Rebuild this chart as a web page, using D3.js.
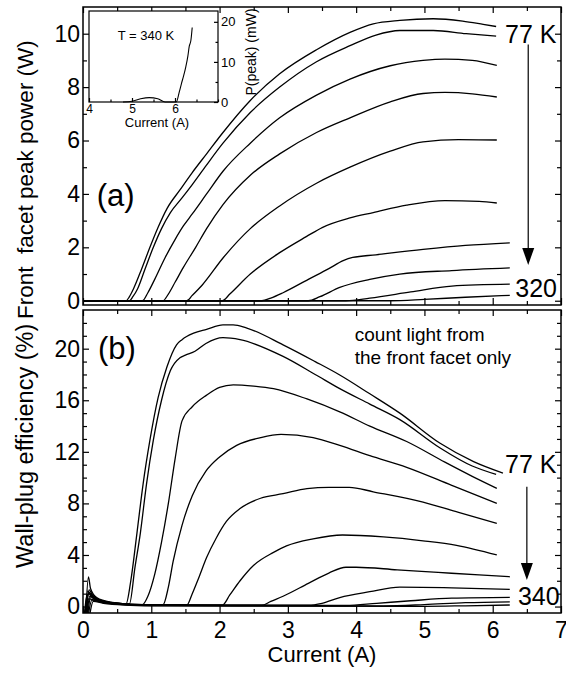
<!DOCTYPE html>
<html>
<head>
<meta charset="utf-8">
<script src="https://cdn.jsdelivr.net/npm/d3@7"></script>
<style>
  body { margin: 0; background: #fff; }
  svg { font-family: "Liberation Sans", Arial, Helvetica, sans-serif; }
</style>
</head>
<body>
<div class="canvas"></div>
<script>
// ticks
const currentTicks = [0, 1, 2, 3, 4, 5, 6, 7]
const currentMinor = [0.5, 1.5, 2.5, 3.5, 4.5, 5.5, 6.5]
const powerTicks = [0, 2, 4, 6, 8, 10]
const powerMinor = [1, 3, 5, 7, 9]
const effTicks = [0, 4, 8, 12, 16, 20]
const effMinor = [1, 2, 3, 5, 6, 7, 9, 10, 11, 13, 14, 15, 17, 18, 19, 21, 22]
const insetCurrentTicks = [4, 5, 6]
const insetCurrentMinor = [4.5, 5.5, 6.5, 7]
const insetPowerTicks = [0, 10, 20]
const insetPowerMinor = [5, 15]

// (a) front facet peak power (W) vs current (A), 77 K (top) ... 320 K (bottom)
const powerCurves = [
  [[0,0],[0.63,0],[0.68,0.15],[0.74,0.45],[0.86,1.2],[0.98,2.0],[1.1,2.75],[1.23,3.45],[1.42,4.15],[1.6,4.8],[1.81,5.5],[2.05,6.3],[2.45,7.5],[2.88,8.5],[3.42,9.4],[3.91,10.05],[4.25,10.37],[4.64,10.5],[5.13,10.56],[5.56,10.47],[5.86,10.35],[6.05,10.27]],
  [[0,0],[0.68,0],[0.73,0.15],[0.8,0.45],[0.91,1.2],[1.03,2.0],[1.15,2.7],[1.28,3.3],[1.45,3.85],[1.6,4.35],[1.8,5.05],[2.05,5.9],[2.45,7.05],[2.88,8.0],[3.42,8.95],[3.91,9.55],[4.29,9.95],[4.64,10.12],[5.13,10.12],[5.61,10.0],[6.05,9.91]],
  [[0,0],[0.87,0],[0.95,0.3],[1.05,0.8],[1.2,1.6],[1.35,2.3],[1.47,2.8],[1.6,3.25],[1.81,4.0],[2.05,4.85],[2.45,5.9],[2.88,6.85],[3.42,7.7],[3.91,8.3],[4.5,8.8],[4.98,9.0],[5.3,9.05],[5.7,9.0],[6.06,8.81]],
  [[0,0],[1.17,0],[1.25,0.25],[1.35,0.7],[1.47,1.25],[1.65,2.0],[1.81,2.7],[2.05,3.6],[2.45,4.7],[2.88,5.5],[3.42,6.3],[3.91,6.85],[4.5,7.45],[4.98,7.76],[5.3,7.8],[5.7,7.75],[6.06,7.63]],
  [[0,0],[1.52,0],[1.6,0.2],[1.75,0.6],[2.05,1.6],[2.45,2.7],[2.88,3.55],[3.42,4.4],[3.91,5.0],[4.5,5.6],[4.98,5.95],[5.5,6.03],[6.06,6.02]],
  [[0,0],[2.04,0],[2.15,0.25],[2.45,1.0],[2.88,1.8],[3.27,2.4],[3.51,2.75],[3.91,3.1],[4.25,3.3],[4.74,3.58],[5.3,3.75],[5.8,3.72],[6.06,3.66]],
  [[0,0],[2.62,0],[2.75,0.1],[2.93,0.3],[3.3,0.8],[3.6,1.2],[3.81,1.5],[3.95,1.62],[4.29,1.72],[4.98,1.92],[5.6,2.07],[6.25,2.17]],
  [[0,0],[3.3,0],[3.47,0.15],[3.76,0.5],[4.2,0.8],[4.64,1.0],[5.4,1.13],[6.25,1.23]],
  [[0,0],[3.85,0],[4.2,0.1],[4.8,0.33],[5.4,0.55],[6.25,0.62]],
  [[0,0],[4.5,0],[5.0,0.05],[5.6,0.13],[6.25,0.2]]
]

// (b) wall-plug efficiency (%) vs current (A), 77 K (top) ... 340 K (bottom)
const effCurves = [
  [[0.02,-0.6],[0.06,0.9],[0.1,1.0],[0.2,0.6],[0.35,0.35],[0.5,0.25],[0.63,0.2],[0.7,2.0],[0.79,5.7],[0.88,9.5],[0.98,12.9],[1.1,16.2],[1.23,18.6],[1.37,20.3],[1.45,20.7],[1.62,21.2],[1.81,21.5],[2.05,21.85],[2.2,21.85],[2.4,21.6],[2.93,20.3],[3.4,19.0],[3.76,17.96],[4.2,16.5],[4.64,15.0],[5.23,12.66],[5.72,11.24],[6.15,10.35]],
  [[0.03,-0.6],[0.07,1.2],[0.12,0.9],[0.25,0.5],[0.45,0.3],[0.68,0.2],[0.76,3.0],[0.84,5.7],[0.93,9.5],[1.03,12.9],[1.15,16.0],[1.28,18.3],[1.42,19.3],[1.5,19.5],[1.64,19.8],[1.8,20.4],[2.05,20.85],[2.3,20.7],[2.93,19.4],[3.4,18.0],[3.76,16.9],[4.2,15.7],[4.64,14.5],[5.23,12.3],[5.7,10.9],[6.05,10.25]],
  [[0.04,-0.6],[0.08,2.3],[0.11,1.4],[0.2,0.7],[0.4,0.35],[0.87,0.15],[0.95,0.8],[1.05,2.5],[1.15,5.0],[1.25,8.0],[1.35,11.5],[1.45,14.4],[1.6,15.5],[1.81,16.4],[2.0,17.0],[2.2,17.2],[2.5,17.1],[2.79,16.9],[3.28,16.1],[3.76,15.1],[4.2,14.0],[4.74,12.8],[5.3,11.2],[5.7,10.1],[6.06,9.17]],
  [[0.05,-0.6],[0.09,1.3],[0.15,0.8],[0.3,0.4],[0.6,0.2],[1.17,0.12],[1.25,1.5],[1.32,3.5],[1.45,6.3],[1.6,8.6],[1.8,10.5],[2.0,11.6],[2.25,12.5],[2.6,13.1],[2.9,13.35],[3.37,13.1],[3.76,12.5],[4.2,11.7],[4.74,10.8],[5.4,9.4],[6.06,8.0]],
  [[0.04,-0.6],[0.08,1.0],[0.14,0.7],[0.3,0.35],[0.7,0.15],[1.52,0.12],[1.6,1.0],[1.7,2.3],[1.81,3.8],[1.95,5.3],[2.1,6.6],[2.3,7.6],[2.6,8.4],[2.93,8.75],[3.28,9.15],[3.6,9.25],[3.9,9.25],[4.25,8.9],[4.98,8.1],[5.5,7.3],[6.06,6.45]],
  [[0.06,-0.6],[0.1,0.8],[0.16,0.6],[0.3,0.3],[0.8,0.12],[2.04,0.1],[2.15,0.9],[2.3,2.0],[2.5,3.2],[2.79,4.2],[2.98,4.7],[3.37,5.25],[3.8,5.55],[4.4,5.4],[4.98,5.1],[5.47,4.75],[6.06,4.0]],
  [[0.03,-0.6],[0.09,1.1],[0.15,0.7],[0.35,0.3],[0.9,0.12],[2.62,0.1],[2.75,0.4],[2.93,0.8],[3.3,1.8],[3.6,2.6],[3.85,3.05],[4.0,3.05],[4.6,2.85],[5.2,2.65],[5.8,2.45],[6.25,2.31]],
  [[0.05,-0.6],[0.08,0.6],[0.2,0.45],[0.4,0.25],[1.0,0.1],[3.3,0.1],[3.5,0.25],[3.76,0.7],[4.2,1.15],[4.64,1.5],[5.4,1.45],[6.25,1.33]],
  [[0.07,-0.6],[0.12,0.9],[0.2,0.55],[0.4,0.3],[1.0,0.1],[3.85,0.08],[4.3,0.25],[4.8,0.45],[5.4,0.65],[6.25,0.71]],
  [[0.08,-0.6],[0.13,0.5],[0.25,0.35],[0.5,0.2],[1.0,0.08],[4.4,0.05],[5.0,0.15],[5.6,0.3],[6.25,0.37]],
  [[0.1,-0.6],[0.15,0.4],[0.3,0.25],[0.6,0.12],[1.2,0.05],[5.0,0.02],[5.6,0.06],[6.25,0.12]]
]

// inset: P(peak) (mW) vs current (A) at T = 340 K
const insetCurve = [[4.79,0],[5.0,0.2],[5.2,0.8],[5.4,1.1],[5.6,0.8],[5.77,0],[6.03,0],[6.1,2.5],[6.15,4.6],[6.2,6.5],[6.25,8.7],[6.3,11.5],[6.33,13.8],[6.37,15.4],[6.4,18.6]]

const FONT = '"Liberation Sans", Arial, Helvetica, sans-serif'

const svg = d3.select('.canvas')
  .append('svg')
  .attr('width', 566)
  .attr('height', 673)

// scales
const x = d3.scaleLinear().domain([0, 7]).range([83, 561])
const yA = d3.scaleLinear().domain([-0.16, 11]).range([305, 7])
const yB = d3.scaleLinear().domain([-0.5, 23]).range([613, 310])
const xi = d3.scaleLinear().domain([4, 7]).range([89, 218])
const yi = d3.scaleLinear().domain([0, 22.7]).range([102, 11])

const styleAxis = (g, size) => {
  g.select('.domain').remove()
  g.selectAll('line').attr('stroke', '#000').attr('stroke-width', 1.2)
  g.selectAll('text').attr('fill', '#000').attr('font-size', size).attr('font-family', FONT)
}

const panel = (y, major, minor, showX, id) => {
  const [x0, x1] = x.range()
  const [yb, yt] = y.range()

  svg.append('clipPath').attr('id', id)
    .append('rect')
    .attr('x', x0).attr('y', yt)
    .attr('width', x1 - x0).attr('height', yb - yt)

  // bottom / top current ticks
  svg.append('g').attr('transform', `translate(0, ${yb})`)
    .call(d3.axisBottom(x).tickValues(currentTicks).tickSizeInner(-7).tickSizeOuter(0)
      .tickPadding(9).tickFormat(showX ? d3.format('d') : ''))
    .call(g => styleAxis(g, 23))
  svg.append('g').attr('transform', `translate(0, ${yb})`)
    .call(d3.axisBottom(x).tickValues(currentMinor).tickSizeInner(-4).tickSizeOuter(0).tickFormat(''))
    .call(g => styleAxis(g, 23))
  svg.append('g').attr('transform', `translate(0, ${yt})`)
    .call(d3.axisTop(x).tickValues(currentTicks).tickSizeInner(-6).tickSizeOuter(0).tickFormat(''))
    .call(g => styleAxis(g, 23))
  svg.append('g').attr('transform', `translate(0, ${yt})`)
    .call(d3.axisTop(x).tickValues(currentMinor).tickSizeInner(-4).tickSizeOuter(0).tickFormat(''))
    .call(g => styleAxis(g, 23))

  // left / right value ticks
  svg.append('g').attr('transform', `translate(${x0}, 0)`)
    .call(d3.axisLeft(y).tickValues(major).tickSizeInner(-6).tickSizeOuter(0).tickPadding(3))
    .call(g => styleAxis(g, 23))
  svg.append('g').attr('transform', `translate(${x0}, 0)`)
    .call(d3.axisLeft(y).tickValues(minor).tickSizeInner(-4).tickSizeOuter(0).tickFormat(''))
    .call(g => styleAxis(g, 23))
  svg.append('g').attr('transform', `translate(${x1}, 0)`)
    .call(d3.axisRight(y).tickValues(major).tickSizeInner(-6).tickSizeOuter(0).tickFormat(''))
    .call(g => styleAxis(g, 23))
  svg.append('g').attr('transform', `translate(${x1}, 0)`)
    .call(d3.axisRight(y).tickValues(minor).tickSizeInner(-4).tickSizeOuter(0).tickFormat(''))
    .call(g => styleAxis(g, 23))

  // frame
  svg.append('rect')
    .attr('x', x0).attr('y', yt)
    .attr('width', x1 - x0).attr('height', yb - yt)
    .attr('fill', 'none').attr('stroke', '#000').attr('stroke-width', 1.5)
}

const drawCurves = (curves, y, id) => {
  const line = d3.line()
    .x(d => x(d[0]))
    .y(d => y(d[1]))
    .curve(d3.curveMonotoneX)
  svg.append('g').attr('clip-path', `url(#${id})`)
    .selectAll('path')
    .data(curves)
    .enter()
    .append('path')
    .attr('d', line)
    .attr('fill', 'none')
    .attr('stroke', '#000')
    .attr('stroke-width', 1.3)
}

const arrow = (y, xv, fromV, toV) => {
  const tip = y(toV)
  svg.append('line')
    .attr('x1', x(xv)).attr('x2', x(xv))
    .attr('y1', y(fromV)).attr('y2', tip - 10)
    .attr('stroke', '#000').attr('stroke-width', 1.2)
  svg.append('path')
    .attr('d', `M${x(xv) - 6},${tip - 17} L${x(xv) + 6},${tip - 17} L${x(xv)},${tip} Z`)
    .attr('fill', '#000')
}

const label = (xv, yv, text, size, anchor = 'start') => {
  svg.append('text')
    .attr('x', xv).attr('y', yv)
    .attr('font-size', size)
    .attr('text-anchor', anchor)
    .attr('fill', '#000')
    .text(text)
}

// panel (a)
panel(yA, powerTicks, powerMinor, false, 'clipA')
drawCurves(powerCurves, yA, 'clipA')
label(x(0.2), yA(3.55), '(a)', 31)
label(x(6.18), yA(9.67), '77 K', 25)
label(x(6.33), yA(0.14), '320', 25)
arrow(yA, 6.52, 9.6, 1.34)

// panel (b)
panel(yB, effTicks, effMinor, true, 'clipB')
drawCurves(effCurves, yB, 'clipB')
label(x(0.22), yB(19.2), '(b)', 31)
label(x(6.18), yB(10.36), '77 K', 25)
label(x(6.37), yB(0.12), '340', 25)
label(x(3.98), yB(20.6), 'count light from', 19)
label(x(3.98), yB(18.8), 'the front facet only', 19)
arrow(yB, 6.5, 9.3, 2.05)

// axis titles (drawn upward from their lower end)
svg.append('text')
  .attr('transform', 'translate(33, 319) rotate(-90)')
  .attr('text-anchor', 'start').attr('font-size', 22.5).attr('fill', '#000')
  .attr('xml:space', 'preserve')
  .text('Front  facet peak power (W)')
svg.append('text')
  .attr('transform', 'translate(33, 568) rotate(-90)')
  .attr('text-anchor', 'start').attr('font-size', 23.5).attr('fill', '#000')
  .text('Wall-plug efficiency (%)')
label((x(0) + x(7)) / 2, 662, 'Current (A)', 22, 'middle')

// inset
svg.append('rect')
  .attr('x', xi.range()[0]).attr('y', yi.range()[1])
  .attr('width', xi.range()[1] - xi.range()[0]).attr('height', yi.range()[0] - yi.range()[1])
  .attr('fill', '#fff').attr('stroke', '#000').attr('stroke-width', 1.2)

svg.append('g').attr('transform', `translate(0, ${yi.range()[0]})`)
  .call(d3.axisBottom(xi).tickValues(insetCurrentTicks).tickSizeInner(-4).tickSizeOuter(0).tickPadding(2).tickFormat(d3.format('d')))
  .call(g => styleAxis(g, 12))
svg.append('g').attr('transform', `translate(0, ${yi.range()[0]})`)
  .call(d3.axisBottom(xi).tickValues(insetCurrentMinor).tickSizeInner(-2.5).tickSizeOuter(0).tickFormat(''))
  .call(g => styleAxis(g, 12))
svg.append('g').attr('transform', `translate(${xi.range()[1]}, 0)`)
  .call(d3.axisRight(yi).tickValues(insetPowerTicks).tickSizeInner(-4).tickSizeOuter(0).tickPadding(3))
  .call(g => styleAxis(g, 13))
svg.append('g').attr('transform', `translate(${xi.range()[1]}, 0)`)
  .call(d3.axisRight(yi).tickValues(insetPowerMinor).tickSizeInner(-2.5).tickSizeOuter(0).tickFormat(''))
  .call(g => styleAxis(g, 13))

svg.append('path')
  .datum(insetCurve)
  .attr('d', d3.line().x(d => xi(d[0])).y(d => yi(d[1])).curve(d3.curveMonotoneX))
  .attr('fill', 'none').attr('stroke', '#000').attr('stroke-width', 1.1)

label(146, 40, 'T = 340 K', 13, 'middle')
label(157, 127, 'Current (A)', 13, 'middle')
svg.append('text')
  .attr('transform', 'translate(256, 52) rotate(-90)')
  .attr('text-anchor', 'middle').attr('font-size', 14).attr('fill', '#000')
  .text('P(peak) (mW)')

svg.selectAll('text').attr('font-family', FONT)
</script>
</body>
</html>
